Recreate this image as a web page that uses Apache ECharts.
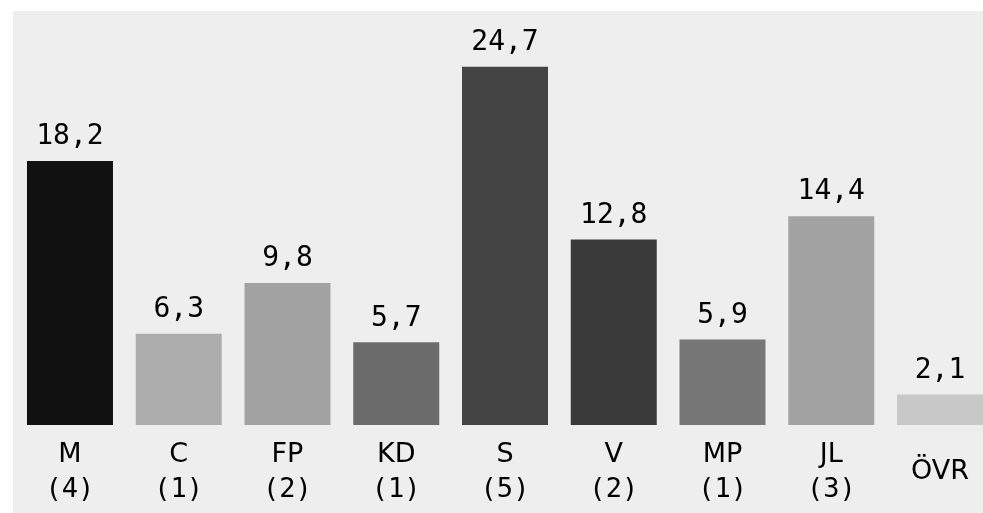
<!DOCTYPE html>
<html>
<head>
<meta charset="utf-8">
<script src="https://cdn.jsdelivr.net/npm/echarts@6/dist/echarts.min.js"></script>
<style>html,body{margin:0;padding:0;background:#fff;overflow:hidden;}#c{width:995px;height:513px;}</style>
</head>
<body>
<div id="c"></div>
<script>
var parties = ['M', 'C', 'FP', 'KD', 'S', 'V', 'MP', 'JL', 'ÖVR'];
var seats = ['4', '1', '2', '1', '5', '2', '1', '3', null];
var values = [18.2, 6.3, 9.8, 5.7, 24.7, 12.8, 5.9, 14.4, 2.1];
var colors = ['#111111', '#adadad', '#a3a3a3', '#6b6b6b', '#444444', '#3a3a3a', '#777777', '#a3a3a3', '#c8c8c8'];

var chart = echarts.init(document.getElementById('c'));
var FONT = 'DejaVu Sans';
var MONO = 'DejaVu Sans Mono';
chart.setOption({
  animation: false,
  backgroundColor: '#ffffff',
  graphic: [{
    type: 'rect', z: -10, silent: true,
    shape: { x: 13, y: 11, width: 990, height: 502 },
    style: { fill: '#eeeeee' }
  }],
  grid: { left: 15.6, right: 0.6, top: 19, bottom: 88, containLabel: false },
  xAxis: {
    type: 'category',
    data: parties,
    axisLine: { show: false },
    axisTick: { show: false },
    axisLabel: {
      interval: 0,
      margin: 47,
      verticalAlign: 'middle',
      color: '#000',
      formatter: function (v, i) {
        return seats[i] ? '{a|' + v + '}\n{b|(' + seats[i] + ')}' : '{a|' + v + '}';
      },
      rich: {
        a: { fontFamily: FONT, fontSize: 27, lineHeight: 35, color: '#000' },
        b: { fontFamily: MONO, fontSize: 27, lineHeight: 35, color: '#000' }
      }
    }
  },
  yAxis: { type: 'value', min: 0, max: 28, show: false, splitLine: { show: false } },
  series: [{
    type: 'bar',
    barWidth: 86,
    data: values.map(function (v, i) { return { value: v, itemStyle: { color: colors[i] } }; }),
    label: {
      show: true,
      position: 'top',
      distance: 10,
      fontFamily: MONO,
      fontSize: 28,
      color: '#000',
      formatter: function (p) { return String(p.value).replace('.', ','); }
    }
  }]
});
</script>
</body>
</html>
